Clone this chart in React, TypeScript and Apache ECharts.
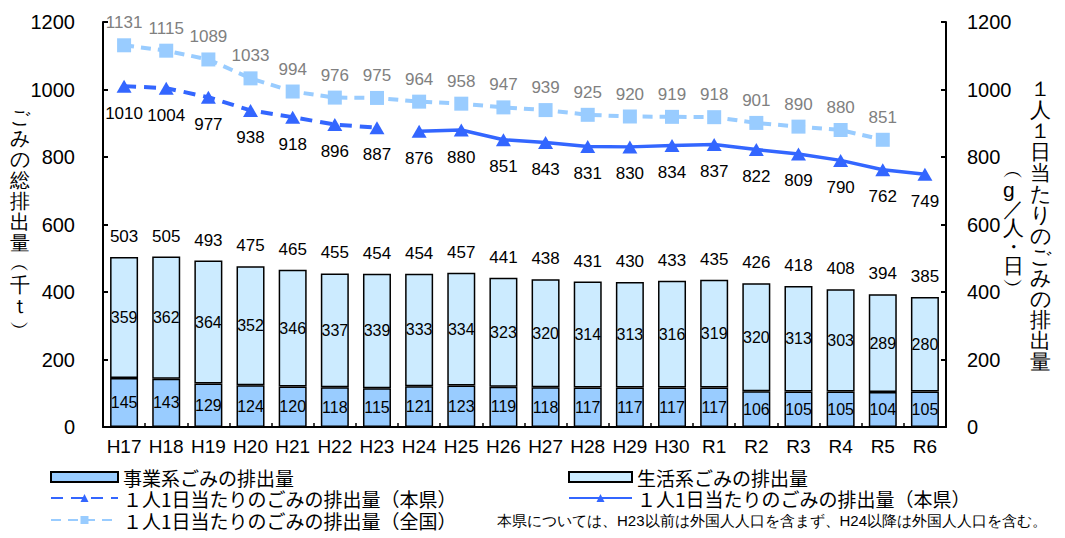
import React, { useEffect, useRef } from "react";
import * as echarts from "echarts";

const categories = ["H17","H18","H19","H20","H21","H22","H23","H24","H25","H26","H27","H28","H29","H30","R1","R2","R3","R4","R5","R6"];
const jigyo = [145,143,129,124,120,118,115,121,123,119,118,117,117,117,117,106,105,105,104,105];
const seikatsu = [359,362,364,352,346,337,339,333,334,323,320,314,313,316,319,320,313,303,289,280];
const totals = [503,505,493,475,465,455,454,454,457,441,438,431,430,433,435,426,418,408,394,385];
const kenBefore = [1010,1004,977,938,918,896,887];
const kenAfter = [876,880,851,843,831,830,834,837,822,809,790,762,749];
const zenkoku = [1131,1115,1089,1033,994,976,975,964,958,947,939,925,920,919,918,901,890,880,851];
const leftTicks = { min: 0, max: 1200, interval: 200 };

const NUM_FONT = "'Liberation Sans', Arial, sans-serif";
const JP_FONT = "'Noto Sans CJK JP', sans-serif";

const names: Record<string, string> = {
  jigyo: "事業系ごみの排出量",
  seikatsu: "生活系ごみの排出量",
  kenDash: "１人1日当たりのごみの排出量（本県）",
  kenSolid: "１人1日当たりのごみの排出量（本県）",
  zen: "１人1日当たりのごみの排出量（全国）",
};

export default function App() {
  const ref = useRef<HTMLDivElement>(null);
  useEffect(() => {
    if (!ref.current) return;
    const chart = echarts.init(ref.current, null, { renderer: "svg" });
    const n = categories.length;
    const kenDashData = kenBefore.concat(new Array(n - kenBefore.length).fill("-"));
    const kenSolidData = new Array(n - kenAfter.length).fill("-").concat(kenAfter);
    const zenData = zenkoku.concat(new Array(n - zenkoku.length).fill("-"));
    const zeros = categories.map(() => 0);

    const yAxisCommon = {
      type: "value",
      ...leftTicks,
      splitLine: { show: false },
      axisLine: { show: true, lineStyle: { color: "#000", width: 2 } },
      axisTick: { show: true, inside: true, length: 5, lineStyle: { color: "#000", width: 2 } },
      axisLabel: { fontSize: 20, color: "#000", fontFamily: NUM_FONT, formatter: (v: number) => String(v) },
    };

    const mkLegend = (key: string, left: number, centerY: number, width: number, icon?: string) => ({
      orient: "horizontal",
      left,
      top: centerY - 10,
      padding: 0,
      itemWidth: width,
      itemHeight: 10,
      itemGap: 0,
      selectedMode: false,
      data: [icon ? { name: key, icon } : key],
      formatter: (name: string) => names[name],
      textStyle: { fontSize: 19, lineHeight: 20, color: "#000", fontFamily: JP_FONT },
    });

    chart.setOption({
      animation: false,
      backgroundColor: "#fff",
      grid: { left: 103, right: 119, top: 22, bottom: 111, containLabel: false },
      xAxis: {
        type: "category",
        data: categories,
        axisLine: { lineStyle: { color: "#000", width: 2 } },
        axisTick: { show: true, inside: true, length: 4, lineStyle: { color: "#000", width: 1.5 } },
        axisLabel: { interval: 0, fontSize: 19, color: "#000", margin: 10, fontFamily: NUM_FONT },
      },
      yAxis: [
        { ...yAxisCommon, position: "left", axisLabel: { ...yAxisCommon.axisLabel, margin: 28 } },
        { ...yAxisCommon, position: "right", axisLabel: { ...yAxisCommon.axisLabel, margin: 21 } },
      ],
      legend: [
        mkLegend("jigyo", 50, 477, 67, "rect"),
        mkLegend("kenDash", 50, 498, 67),
        mkLegend("zen", 50, 520, 67),
        mkLegend("seikatsu", 568, 477, 63, "rect"),
        mkLegend("kenSolid", 568, 498, 63),
      ],
      graphic: [
        {
          type: "text",
          left: 10,
          top: 106,
          style: {
            text: "ご\nみ\nの\n総\n排\n出\n量\n︵\n千\nｔ\n︶",
            fontSize: 20,
            lineHeight: 21,
            fill: "#000",
            font: "20px 'Noto Sans CJK JP', sans-serif",
            align: "center",
          },
        },
        {
          type: "text",
          left: 1030,
          top: 78,
          style: {
            text: "１\n人\n１\n日\n当\nた\nり\nの\nご\nみ\nの\n排\n出\n量",
            fontSize: 21,
            lineHeight: 21,
            fill: "#000",
            font: "21px 'Noto Sans CJK JP', sans-serif",
            align: "center",
          },
        },
        {
          type: "text",
          left: 1003,
          top: 160,
          style: {
            text: "︵\ng\n／\n人\n・\n日\n︶",
            fontSize: 21,
            lineHeight: 19,
            fill: "#000",
            font: "21px 'Noto Sans CJK JP', sans-serif",
            align: "center",
          },
        },
        {
          type: "text",
          left: 497,
          top: 513,
          style: {
            text: "本県については、H23以前は外国人人口を含まず、H24以降は外国人人口を含む。",
            fontSize: 15,
            fill: "#000",
            font: "15px 'Noto Sans CJK JP', sans-serif",
          },
        },
      ],
      series: [
        {
          name: "jigyo",
          type: "bar",
          stack: "a",
          barWidth: 28,
          data: jigyo,
          itemStyle: { color: "#99CCFF", borderColor: "#000", borderWidth: 1.5 },
          label: { show: true, position: "inside", fontSize: 16, color: "#000", fontFamily: NUM_FONT },
        },
        {
          name: "seikatsu",
          type: "bar",
          stack: "a",
          barWidth: 28,
          data: seikatsu,
          itemStyle: { color: "#CCEBFF", borderColor: "#000", borderWidth: 1.5 },
          label: { show: true, position: "inside", fontSize: 16, color: "#000", fontFamily: NUM_FONT },
        },
        {
          name: "total",
          type: "bar",
          stack: "a",
          barWidth: 28,
          data: zeros,
          itemStyle: { color: "rgba(0,0,0,0)", borderWidth: 0 },
          label: {
            show: true,
            position: "top",
            distance: 12,
            fontSize: 17,
            color: "#000",
            fontFamily: NUM_FONT,
            formatter: (p: any) => String(totals[p.dataIndex]),
          },
        },
        {
          name: "zen",
          type: "line",
          yAxisIndex: 1,
          data: zenData,
          symbol: "rect",
          symbolSize: 14,
          itemStyle: { color: "#99CCFF" },
          lineStyle: { color: "#99CCFF", width: 4, type: [10, 7] },
          label: { show: true, position: "top", distance: 7, fontSize: 17, color: "#808080", fontFamily: NUM_FONT },
          z: 5,
        },
        {
          name: "kenDash",
          type: "line",
          yAxisIndex: 1,
          data: kenDashData,
          symbol: "triangle",
          symbolSize: [15, 13],
          itemStyle: { color: "#3366FF" },
          lineStyle: { color: "#3366FF", width: 4, type: [12, 8] },
          label: { show: true, position: "bottom", distance: 12, fontSize: 17, color: "#000", fontFamily: NUM_FONT },
          z: 6,
        },
        {
          name: "kenSolid",
          type: "line",
          yAxisIndex: 1,
          data: kenSolidData,
          symbol: "triangle",
          symbolSize: [15, 13],
          itemStyle: { color: "#3366FF" },
          lineStyle: { color: "#3366FF", width: 3.5 },
          label: { show: true, position: "bottom", distance: 12, fontSize: 17, color: "#000", fontFamily: NUM_FONT },
          z: 6,
        },
      ],
    });
    return () => chart.dispose();
  }, []);
  return <div ref={ref} style={{ width: 1065, height: 538, position: "absolute", left: 0, top: 0 }} />;
}
